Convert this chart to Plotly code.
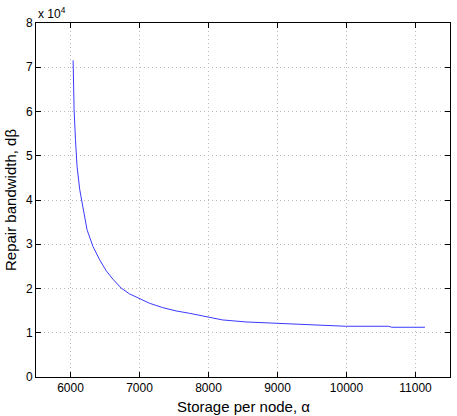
import plotly.graph_objects as go

storage = [6038, 6052, 6072, 6095, 6134, 6182, 6240, 6326, 6423, 6519, 6615, 6736,
           6856, 6990, 7144, 7336, 7530, 7721, 7865, 8010, 8202, 8540, 9020, 9550,
           9983, 10608, 10655, 11137]
bandwidth = [71560, 60400, 53620, 47580, 42310, 37780, 33260, 29480, 26470, 23980,
             22100, 20070, 18780, 17810, 16670, 15680, 14930, 14410, 13960, 13510,
             12900, 12440, 12060, 11700, 11470, 11470, 11240, 11240]

x_ticks = [6000, 7000, 8000, 9000, 10000, 11000]
x_tick_labels = ["6000", "7000", "8000", "9000", "10000", "11000"]
y_ticks = [0, 10000, 20000, 30000, 40000, 50000, 60000, 70000, 80000]
y_tick_labels = ["0", "1", "2", "3", "4", "5", "6", "7", "8"]

FONT = "Liberation Sans, Arial, Helvetica"

fig = go.Figure()
fig.add_trace(go.Scatter(x=storage, y=bandwidth, mode="lines",
                         line=dict(color="#3a3aff", width=1), showlegend=False,
                         hoverinfo="skip"))

axis_common = dict(showline=True, linecolor="black", linewidth=1, mirror="ticks",
                   ticks="inside", ticklen=5, tickcolor="black", automargin=False,
                   showgrid=True, gridcolor="#b8b8b8", griddash="1px,3px", gridwidth=1,
                   zeroline=False, tickfont=dict(family=FONT, size=12, color="black"))

fig.update_layout(
    width=457, height=416,
    margin=dict(l=36, r=7, t=23, b=39),
    paper_bgcolor="white", plot_bgcolor="white",
    font=dict(family=FONT, color="black"),
    xaxis=dict(range=[5500, 11500], tickvals=x_ticks, ticktext=x_tick_labels, **axis_common),
    yaxis=dict(range=[0, 80000], tickvals=y_ticks, ticktext=y_tick_labels, **axis_common),
    annotations=[
        dict(text="x 10<sup>4</sup>", xref="paper", yref="paper", x=0, y=1,
             xanchor="left", yanchor="bottom", showarrow=False,
             font=dict(family=FONT, size=12, color="black"), yshift=0),
        dict(text="Storage per node, α", xref="paper", yref="paper", x=0.5, y=0,
             xanchor="center", yanchor="top", showarrow=False, yshift=-19,
             font=dict(family=FONT, size=15, color="black")),
        dict(text="Repair bandwidth, dβ", xref="paper", yref="paper", x=0, y=0.5,
             xanchor="center", yanchor="middle", showarrow=False, textangle=-90,
             xshift=-26, font=dict(family=FONT, size=15, color="black")),
    ],
)

fig.write_html("out.html", config={"displayModeBar": False},
               post_script="document.body.style.margin='0';document.body.style.overflow='hidden';")
